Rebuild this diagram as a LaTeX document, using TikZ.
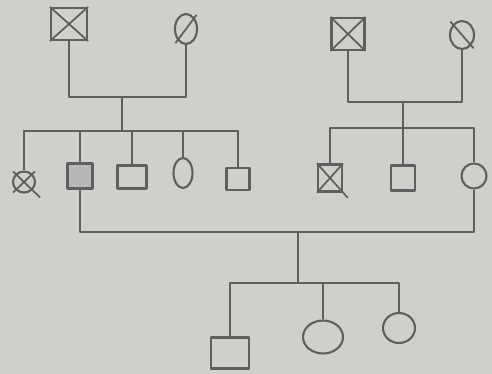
\documentclass[tikz,border=0pt]{standalone}
\usepackage{xcolor,tikz}
\usetikzlibrary{shapes.geometric}
\definecolor{paper}{RGB}{208,207,203}
\definecolor{ink}{RGB}{95,95,95}

\begin{document}
\begin{tikzpicture}[x=0.02cm,y=-0.02cm,
line/.style={draw=ink,line width=1.2pt,line join=round},
male/.style={line,rectangle,inner sep=0pt},
female/.style={line,ellipse,inner sep=0pt},
dead/.style={draw=ink,line width=1pt,shorten <=-2pt,shorten >=-2pt}]
\fill[paper] (0,0) rectangle (492,374);
% first generation
\node[male,minimum width=0.72cm,minimum height=0.64cm] (gfA) at (69,24) {};
\node[female,minimum width=0.44cm,minimum height=0.6cm] (gmA) at (186,29) {};
\node[male,minimum width=0.66cm,minimum height=0.64cm] (gfB) at (348,34) {};
\node[female,minimum width=0.48cm,minimum height=0.56cm] (gmB) at (462,35) {};
\draw[dead,shorten <=0pt,shorten >=0pt] (gfA.north west)--(gfA.south east) (gfA.north east)--(gfA.south west);
\draw[dead] (gmA.north east)--(gmA.south west);
\draw[dead,shorten <=0pt,shorten >=0pt] (gfB.north west)--(gfB.south east) (gfB.north east)--(gfB.south west);
\draw[dead] (gmB.north west)--(gmB.south east);
% second generation
\node[female,minimum width=0.44cm,minimum height=0.42cm] (a1) at (24,182) {};
\node[male,fill=ink!45,minimum width=0.5cm,minimum height=0.5cm] (a2) at (80,176) {};
\node[male,minimum width=0.58cm,minimum height=0.46cm] (a3) at (132,177) {};
\node[female,minimum width=0.38cm,minimum height=0.6cm] (a4) at (183,173) {};
\node[male,minimum width=0.46cm,minimum height=0.44cm] (a5) at (238,179) {};
\node[male,minimum width=0.48cm,minimum height=0.54cm] (b1) at (330,178) {};
\node[male,minimum width=0.48cm,minimum height=0.5cm] (b2) at (403,178) {};
\node[female,minimum width=0.5cm,minimum height=0.5cm] (b3) at (474,176) {};
\draw[dead,shorten >=-6pt] (a1.north west)--(a1.south east);
\draw[dead] (a1.north east)--(a1.south west);
\draw[dead,shorten <=0pt,shorten >=-4pt] (b1.north west)--(b1.south east);
\draw[dead,shorten <=0pt,shorten >=0pt] (b1.north east)--(b1.south west);
% third generation
\node[male,minimum width=0.76cm,minimum height=0.62cm] (c1) at (230,353) {};
\node[female,minimum width=0.8cm,minimum height=0.66cm] (c2) at (323,337) {};
\node[female,minimum width=0.64cm,minimum height=0.6cm] (c3) at (399,328) {};
% marriages and sibships
\coordinate (mA) at (122,97); \coordinate (sibA) at (122,131);
\coordinate (mB) at (403,102); \coordinate (sibB) at (403,128);
\coordinate (mC) at (298,232); \coordinate (sibC) at (298,283);
\draw[line] (gfA.south) |- (mA) -| (gmA.south); \draw[line] (mA)--(sibA);
\draw[line] (a1.north) |- (sibA) -| (a5.north);
\draw[line] (sibA -| a2.north)--(a2.north);
\draw[line] (sibA -| a3.north)--(a3.north);
\draw[line] (sibA -| a4.north)--(a4.north);
\draw[line] (gfB.south) |- (mB) -| (gmB.south); \draw[line] (mB)--(b2.north);
\draw[line] (b1.north) |- (sibB) -| (b3.north);
\draw[line] (a2.south) |- (mC) -| (b3.south); \draw[line] (mC)--(sibC);
\draw[line] (c1.north) |- (sibC) -| (c3.north);
\draw[line] (sibC -| c2.north)--(c2.north);
\end{tikzpicture}
\end{document}
